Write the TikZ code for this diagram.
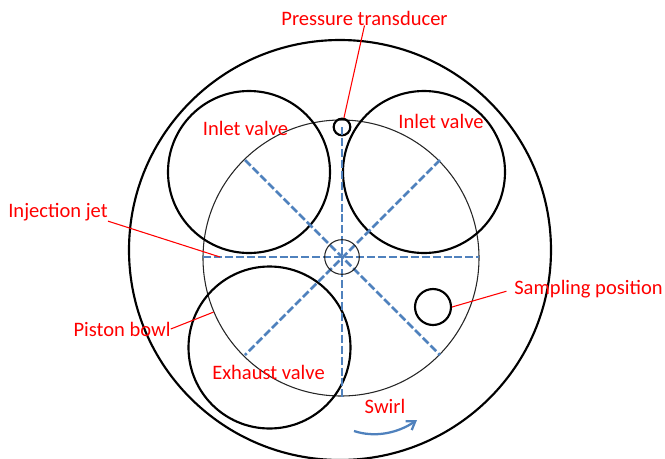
\documentclass[tikz,border=0pt]{standalone}
\usepackage{fontspec}
\setmainfont{Carlito}
\usetikzlibrary{arrows.meta,shapes.geometric}
\definecolor{jetblue}{HTML}{4F81BD}

\begin{document}
\begin{tikzpicture}[
  x=0.75pt, y=-0.75pt,
  valve/.style={circle, draw=black, line width=1.6pt, inner sep=0pt, minimum size=121.5pt},
  probe/.style={circle, draw=black, line width=1.6pt, inner sep=0pt},
  thinring/.style={circle, draw=black!85, line width=0.8pt, inner sep=0pt},
  tag/.style={text=red, font=\fontsize{15.4}{18}\selectfont, inner sep=0pt},
  lead/.style={draw=red, line width=0.8pt},
  jet/.style={draw=jetblue, line width=2pt, dash pattern=on 6pt off 2.2pt}
]
\useasboundingbox (0,0) rectangle (665,458);

\node[ellipse, draw=black, line width=1.6pt, inner sep=0pt, minimum width=316.5pt, minimum height=315pt] (head) at (340,250) {};
\node[thinring, minimum size=207pt] (bowl) at (341,258) {};
\node[valve] (inleta) at (249,172) {};
\node[valve] (inletb) at (424,172) {};
\node[valve] (exhaust) at (269.5,347.5) {};
\node[probe, minimum size=12.5pt] (transducer) at (342,127) {};
\node[probe, minimum size=27pt] (sampling) at (433,307) {};

\coordinate (west) at (203,257);
\coordinate (east) at (479,257);
\coordinate (north) at (342,127);
\coordinate (south) at (342,397);
\coordinate (nw) at (245,160);
\coordinate (se) at (440,355);
\coordinate (ne) at (440,160);
\coordinate (sw) at (245,355);
\coordinate (jettip) at (220,257);
\coordinate (swirla) at (354,431);
\coordinate (swirlb) at (417,420);

\draw[jet] (west)--(east);
\draw[jet] (north)--(south);
\draw[jet] (nw)--(se);
\draw[jet] (ne)--(sw);
\node[thinring, minimum size=26pt] (nozzle) at (342,257) {};

\node[tag] (lbltransducer) at (364.5,18) {Pressure transducer};
\node[tag] (lblinleta) at (245.5,128) {Inlet valve};
\node[tag] (lblinletb) at (441,121) {Inlet valve};
\node[tag] (lbljet) at (58,212) {Injection jet};
\node[tag] (lblbowl) at (122,329) {Piston bowl};
\node[tag] (lblexhaust) at (268.5,372) {Exhaust valve};
\node[tag] (lblsampling) at (588.5,289) {Sampling position};
\node[tag] (lblswirl) at (385,406) {Swirl};

\draw[lead] (lbltransducer.south)--(transducer.78);
\draw[lead] (lbljet.south east)--(jettip);
\draw[lead] (lblbowl.east)--(bowl.203);
\draw[lead, shorten <=6pt] (lblsampling.west)--(sampling.east);

\draw[-{Straight Barb[length=6pt,width=8pt]}, draw=jetblue, line width=1.7pt] (swirla) .. controls (375,438) and (398,433) .. (swirlb);
\end{tikzpicture}
\end{document}
